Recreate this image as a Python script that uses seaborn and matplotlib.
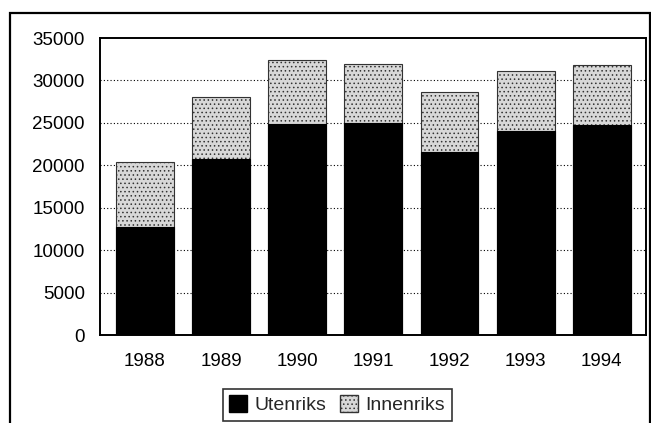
import matplotlib
matplotlib.use("Agg")
import matplotlib.pyplot as plt
from matplotlib.patches import Patch, Rectangle
import pandas as pd
import seaborn as sns

# --- DATA ---------------------------------------------------------------------
years     = ["1988", "1989", "1990", "1991", "1992", "1993", "1994"]
utenriks  = [12700, 20800, 24900, 25000, 21600, 24000, 24700]
innenriks = [7700, 7200, 7500, 7000, 7000, 7100, 7100]
y_ticks   = [0, 5000, 10000, 15000, 20000, 25000, 30000, 35000]

df = pd.DataFrame({"year": years, "Utenriks": utenriks, "Innenriks": innenriks})
df["total"] = df["Utenriks"] + df["Innenriks"]

# --- STYL ---------------------------------------------------------------------
sns.set_style("white")
plt.rcParams["font.family"] = ["Liberation Sans", "DejaVu Sans"]
plt.rcParams["hatch.color"] = "#7a7a7a"
plt.rcParams["hatch.linewidth"] = 0.6

fig = plt.figure(figsize=(6.51, 4.23), dpi=100)
ax = fig.add_axes([0.1536, 0.208, 0.8387, 0.702])

# Innenriks = gorna czesc (rysowana jako suma), Utenriks na wierzchu
sns.barplot(data=df, x="year", y="total", color="#d8d8d8", width=0.76,
            edgecolor="#333333", linewidth=0.8, hatch="....",
            saturation=1, ax=ax, zorder=2)
sns.barplot(data=df, x="year", y="Utenriks", color="black", width=0.76,
            edgecolor="black", linewidth=0.8, saturation=1, ax=ax, zorder=3)

ax.set_ylim(0, 35000)
ax.set_xlim(-0.59, 6.58)
ax.set_yticks(y_ticks)
ax.set_yticklabels([str(v) for v in y_ticks])
ax.set_xlabel("")
ax.set_ylabel("")

for v in y_ticks[1:-1]:
    ax.axhline(v, color="black", linestyle=(0, (1, 2)), linewidth=0.8, zorder=1)

for s in ax.spines.values():
    s.set_color("black")
    s.set_linewidth(1.4)

ax.tick_params(axis="both", direction="out", length=6, width=1.2,
               color="black", labelsize=13.5, labelcolor="black")
ax.tick_params(axis="x", pad=7)
ax.tick_params(axis="y", pad=5)

handles = [Patch(facecolor="black", edgecolor="black", label="Utenriks"),
           Patch(facecolor="#d8d8d8", edgecolor="#333333", hatch="....",
                 label="Innenriks")]
leg = fig.legend(handles=handles, loc="center", bbox_to_anchor=(0.518, 0.043),
                 ncol=2, frameon=True, fontsize=14, fancybox=False,
                 handlelength=0.9, handleheight=0.9, handletextpad=0.4,
                 columnspacing=0.7, borderpad=0.35)
leg.get_frame().set_edgecolor("black")
leg.get_frame().set_linewidth(1.2)

# ramka wokol calego wykresu
fig.patches.append(Rectangle((10 / 651, -0.05), 640 / 651, 1.05 - 13 / 423,
                             transform=fig.transFigure, fill=False,
                             edgecolor="black", linewidth=1.6))

fig.savefig("out.png", dpi=100)
